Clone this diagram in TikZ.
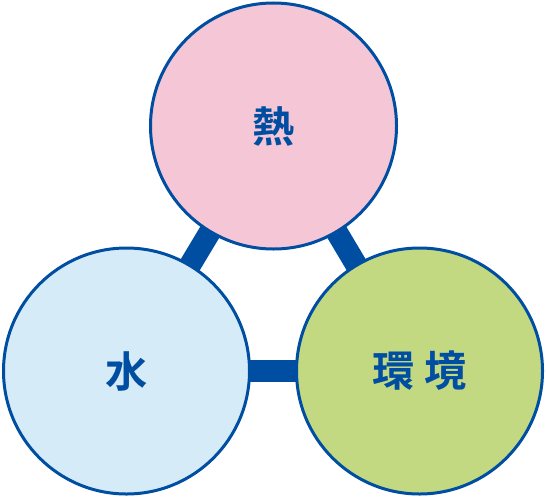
\documentclass[tikz,border=0pt]{standalone}
\usepackage{fontspec}
\newfontfamily\jpfont{Noto Sans CJK JP Bold}
\usetikzlibrary{backgrounds}
\definecolor{ringblue}{HTML}{004EA2}
\definecolor{heatpink}{HTML}{F5C6D5}
\definecolor{waterblue}{HTML}{D5EBF8}
\definecolor{envgreen}{HTML}{C2D982}
\tikzset{
  topic/.style={
    circle, draw=ringblue, line width=0.06cm, minimum size=4.92cm,
    text=ringblue, font=\jpfont\fontsize{24}{28}\selectfont
  },
  bar/.style={ringblue, line width=0.44cm}
}

\begin{document}
\begin{tikzpicture}
    \useasboundingbox (0,0) rectangle (10.92,-9.96);

    % Nodes
    \node[topic, fill=heatpink] (heat) at (5.47,-2.52) {熱};
    \node[topic, fill=waterblue] (water) at (2.53,-7.42) {水};
    \node[topic, fill=envgreen] (env) at (8.39,-7.42) {環 境};

    % Links
    \begin{pgfonlayer}{background}
    \draw[bar] (heat.center) -- (water.center);
    \draw[bar] (heat.center) -- (env.center);
    \draw[bar] (water.center) -- (env.center);
    \end{pgfonlayer}

\end{tikzpicture}
\end{document}
